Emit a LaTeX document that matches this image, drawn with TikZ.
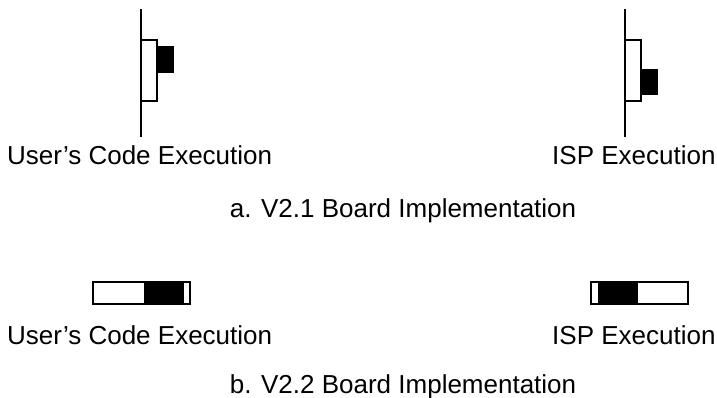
\documentclass[tikz,border=0pt]{standalone}
\usepackage{fontspec}
\setmainfont{Liberation Sans}
\begin{document}
\begin{tikzpicture}[x=1pt,y=-1pt,
  lbl/.style={inner sep=0pt,font=\fontsize{26}{30}\selectfont},
  wire/.style={line width=2pt},
  body/.style={line width=2pt,fill=white},
  knob/.style={fill=black,draw=black,line width=0.5pt}]
\useasboundingbox (0,0) rectangle (717,397);
% a. left switch
\draw[wire] (141,9) -- (141,137);
\draw[body] (141,40) rectangle (157,101);
\draw[knob] (157,46) rectangle (173,72);
% a. right switch
\draw[wire] (625,9) -- (625,137);
\draw[body] (625,40) rectangle (641,101);
\draw[knob] (641,69) rectangle (657,94);
\node[lbl,anchor=base west] (ua) at (7,164) {User’s Code Execution};
\node[lbl,anchor=base west] (ia) at (552,164) {ISP Execution};
\node[lbl,anchor=base] (ca) at (403,217) {a. V2.1 Board Implementation};
% b. switches
\draw[body] (93,282) rectangle (190,304);
\draw[knob] (144,283) rectangle (183,303);
\draw[body] (591,282) rectangle (688,304);
\draw[knob] (598,283) rectangle (637,303);
\node[lbl,anchor=base west] (ub) at (7,344) {User’s Code Execution};
\node[lbl,anchor=base west] (ib) at (552,344) {ISP Execution};
\node[lbl,anchor=base] (cb) at (403,393) {b. V2.2 Board Implementation};
\end{tikzpicture}
\end{document}
